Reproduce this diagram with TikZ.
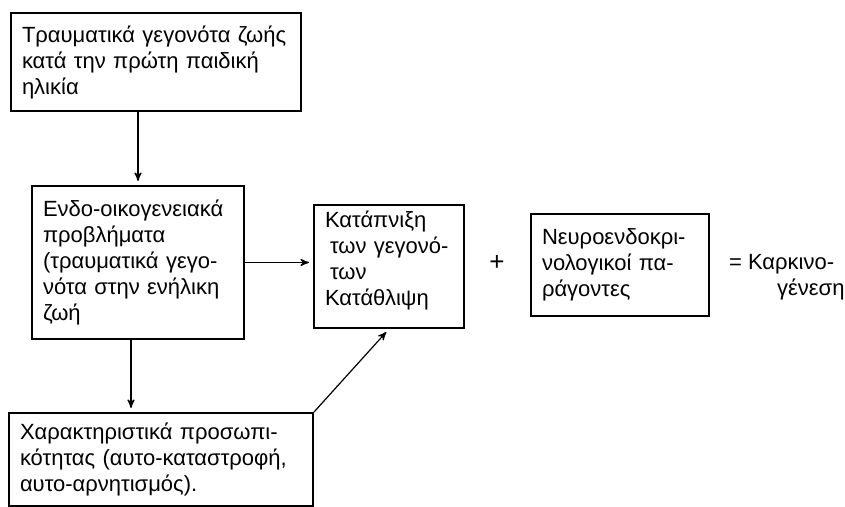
\documentclass[tikz,border=0pt]{standalone}
\usepackage{fontspec}
\setmainfont{Liberation Sans}
\usetikzlibrary{arrows}
\tikzset{
  >=stealth', x=0.5pt, y=-0.5pt,
  every node/.style={font=\fontsize{11}{13}\selectfont},
  box/.style={draw, line width=1pt, anchor=north west, align=left, inner xsep=5.5pt, inner ysep=0pt},
  link/.style={->, semithick, shorten >=2pt}
  }

\begin{document}
\begin{tikzpicture}

    \useasboundingbox (0,0) rectangle (845,507);
    \node [box, text width=134pt, minimum height=49pt] at (10,12) (early) {Τραυματικά~γεγονότα~ζωής\\κατά~την~πρώτη~παιδική\\ηλικία};
    \node [box, text width=95pt, minimum height=76.5pt] at (31,185) (family) {Ενδο-οικογενειακά\\προβλήματα\\(τραυματικά~γεγο-\\νότα~στην~ενήλικη\\ζωή};
    \node [box, text width=64pt, minimum height=61.5pt] at (313,204) (repress) {Κατάπνιξη\\\hspace*{2.5pt}των~γεγονό-\\\hspace*{2.5pt}των\\Κατάθλιψη\\[-5pt]\mbox{}};
    \node [box, text width=78pt, minimum height=51pt] at (530,213) (neuro) {Νευροενδοκρι-\\νολογικοί~πα-\\ράγοντες};
    \node [box, text width=141pt, minimum height=46.5pt] at (8,412) (traits) {Χαρακτηριστικά~προσωπι-\\κότητας~(αυτο-καταστροφή,\\αυτο-αρνητισμός).};
    \node [font=\fontsize{13}{13}\selectfont] at (497,263) (plus) {+};
    \node [anchor=west, align=left] at (722,277) (cancer) {=~Καρκινο-\\\hspace*{24pt}γένεση};

    \draw [link] (family.north |- early.south) -- (family.north);
    \draw [link] (family.east) -- (family.east -| repress.west);
    \draw [link] ([xshift=-3.5pt]family.south) -- ([xshift=-3.5pt]family.south |- traits.north);
    \draw [link] (traits.north east) -- (repress.south);

\end{tikzpicture}
\end{document}
